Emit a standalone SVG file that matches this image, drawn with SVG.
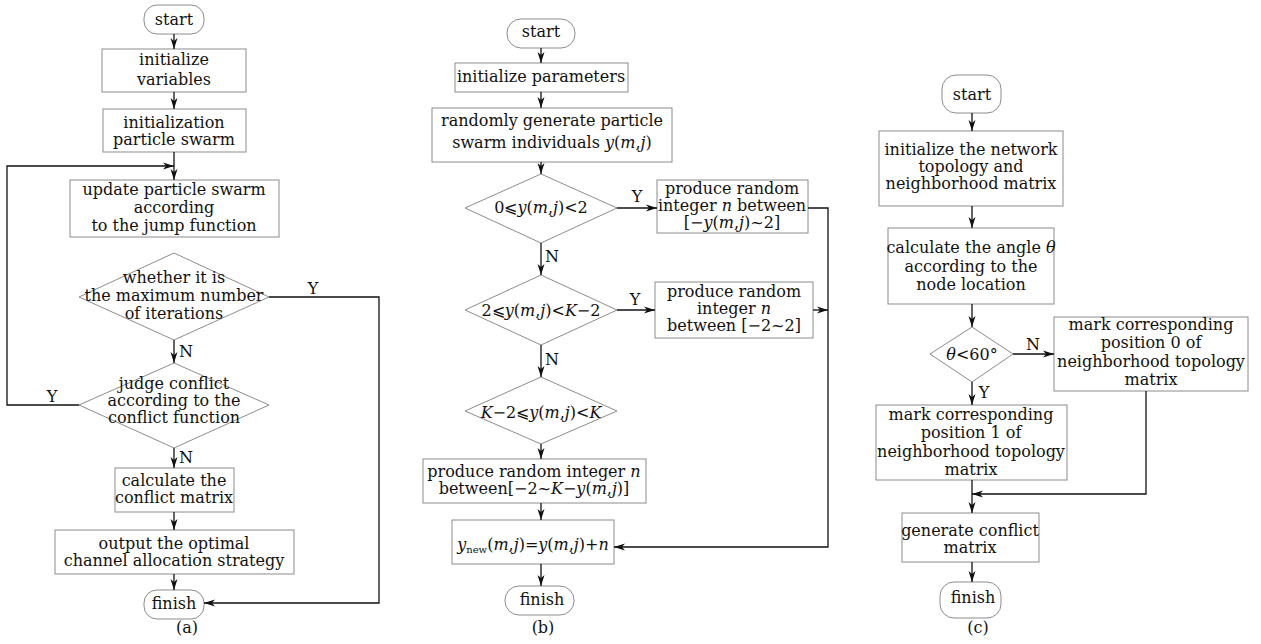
<svg xmlns="http://www.w3.org/2000/svg" width="1261" height="644" viewBox="0 0 1261 644">
<style>
text{font-family:"DejaVu Serif","Liberation Serif",serif;font-size:16px;fill:#111;text-anchor:middle}
.i{font-style:italic}
.sub{font-size:10px}
.box{fill:#fff;stroke:#8c8c8c;stroke-width:1}
.con{fill:none;stroke:#111;stroke-width:1.3}
.lbl{font-size:16px}
</style>
<defs>
<marker id="ar" markerUnits="userSpaceOnUse" markerWidth="12" markerHeight="8" refX="11" refY="4" orient="auto">
<path d="M0,0.5 L11,4 L0,7.5 L3,4 z" fill="#111"/>
</marker>
</defs>
<rect width="1261" height="644" fill="#fff"/>

<!-- Panel (a) -->
<g id="a-start"><rect class="box" x="144" y="5" width="60" height="29" rx="13"/><text x="174" y="25">start</text></g>
<g id="a-initvars"><rect class="box" x="102" y="49" width="144" height="43"/><text x="174" y="65">initialize</text><text x="174" y="85">variables</text></g>
<g id="a-initswarm"><rect class="box" x="103" y="109" width="143" height="43"/><text x="174" y="128">initialization</text><text x="174" y="145">particle swarm</text></g>
<g id="a-update"><rect class="box" x="70" y="180" width="209" height="57"/><text x="174" y="195">update particle swarm</text><text x="174" y="213">according</text><text x="174" y="231">to the jump function</text></g>
<g id="a-d1"><polygon class="box" points="174,253 269,297 174,340 79,297"/><text x="174" y="283">whether it is</text><text x="174" y="301">the maximum number</text><text x="174" y="319">of iterations</text></g>
<g id="a-d2"><polygon class="box" points="174,363 269,405 174,448 79,405"/><text x="174" y="389">judge conflict</text><text x="174" y="406">according to the</text><text x="174" y="423">conflict function</text></g>
<g id="a-calc"><rect class="box" x="115" y="468" width="119" height="44"/><text x="174" y="486">calculate the</text><text x="174" y="503">conflict matrix</text></g>
<g id="a-output"><rect class="box" x="55" y="530" width="239" height="44"/><text x="174" y="549">output the optimal</text><text x="174" y="566">channel allocation strategy</text></g>
<g id="a-finish"><rect class="box" x="144" y="590" width="60" height="29" rx="13"/><text x="174" y="609">finish</text></g>
<text x="187" y="633">(a)</text>

<!-- Panel (b) -->
<g id="b-start"><rect class="box" x="507" y="19" width="68" height="29" rx="14"/><text x="541" y="37">start</text></g>
<g id="b-init"><rect class="box" x="455" y="63" width="173" height="29"/><text x="541" y="82">initialize parameters</text></g>
<g id="b-rand"><rect class="box" x="432" y="108" width="240" height="54"/><text x="552" y="126">randomly generate particle</text><text x="552" y="148">swarm individuals <tspan class="i">y</tspan>(<tspan class="i">m</tspan>,<tspan class="i">j</tspan>)</text></g>
<g id="b-d1"><polygon class="box" points="541,174 617,208 541,243 465,208"/><text x="541" y="213">0⩽<tspan class="i">y</tspan>(<tspan class="i">m</tspan>,<tspan class="i">j</tspan>)&lt;2</text></g>
<g id="b-box1"><rect class="box" x="657" y="180" width="151" height="53"/><text x="732" y="194">produce random</text><text x="732" y="211">integer <tspan class="i">n</tspan> between</text><text x="732" y="228">[−<tspan class="i">y</tspan>(<tspan class="i">m</tspan>,<tspan class="i">j</tspan>)~2]</text></g>
<g id="b-d2"><polygon class="box" points="541,275 617,310 541,345 465,310"/><text x="541" y="316">2⩽<tspan class="i">y</tspan>(<tspan class="i">m</tspan>,<tspan class="i">j</tspan>)&lt;<tspan class="i">K</tspan>−2</text></g>
<g id="b-box2"><rect class="box" x="655" y="282" width="158" height="56"/><text x="734" y="297">produce random</text><text x="734" y="314">integer <tspan class="i">n</tspan></text><text x="734" y="331">between [−2~2]</text></g>
<g id="b-d3"><polygon class="box" points="541,377 617,411 541,444 465,411"/><text x="541" y="418"><tspan class="i">K</tspan>−2⩽<tspan class="i">y</tspan>(<tspan class="i">m</tspan>,<tspan class="i">j</tspan>)&lt;<tspan class="i">K</tspan></text></g>
<g id="b-box3"><rect class="box" x="423" y="459" width="223" height="44"/><text x="534" y="477">produce random integer <tspan class="i">n</tspan></text><text x="534" y="494">between[−2~<tspan class="i">K</tspan>−<tspan class="i">y</tspan>(<tspan class="i">m</tspan>,<tspan class="i">j</tspan>)]</text></g>
<g id="b-box4"><rect class="box" x="452" y="520" width="162" height="44"/><text x="533" y="550"><tspan class="i">y</tspan><tspan class="sub" dy="3">new</tspan><tspan dy="-3">(</tspan><tspan class="i">m</tspan>,<tspan class="i">j</tspan>)=<tspan class="i">y</tspan>(<tspan class="i">m</tspan>,<tspan class="i">j</tspan>)+<tspan class="i">n</tspan></text></g>
<g id="b-finish"><rect class="box" x="505" y="586" width="69" height="29" rx="14"/><text x="542" y="605">finish</text></g>
<text x="543" y="633">(b)</text>

<!-- Panel (c) -->
<g id="c-start"><rect class="box" x="942" y="75" width="59" height="38" rx="14"/><text x="972" y="100">start</text></g>
<g id="c-init"><rect class="box" x="879" y="131" width="184" height="75"/><text x="971" y="155">initialize the network</text><text x="971" y="172">topology and</text><text x="971" y="189">neighborhood matrix</text></g>
<g id="c-angle"><rect class="box" x="888" y="228" width="166" height="76"/><text x="971" y="253">calculate the angle <tspan class="i">θ</tspan></text><text x="971" y="272">according to the</text><text x="971" y="290">node location</text></g>
<g id="c-d"><polygon class="box" points="972,327 1013,354 972,382 930,354"/><text x="972" y="360"><tspan class="i">θ</tspan>&lt;60°</text></g>
<g id="c-mark0"><rect class="box" x="1054" y="317" width="194" height="74"/><text x="1151" y="330">mark corresponding</text><text x="1151" y="348">position 0 of</text><text x="1151" y="367">neighborhood topology</text><text x="1151" y="385">matrix</text></g>
<g id="c-mark1"><rect class="box" x="876" y="405" width="191" height="75"/><text x="971" y="420">mark corresponding</text><text x="971" y="438">position 1 of</text><text x="971" y="457">neighborhood topology</text><text x="971" y="475">matrix</text></g>
<g id="c-gen"><rect class="box" x="902" y="513" width="137" height="49"/><text x="970" y="536">generate conflict</text><text x="970" y="553">matrix</text></g>
<g id="c-finish"><rect class="box" x="940" y="582" width="61" height="36" rx="14"/><text x="973" y="603">finish</text></g>
<text x="978" y="633">(c)</text>

<!-- Connectors -->
<g id="connectors">
<path class="con" marker-end="url(#ar)" d="M174,34 V49"/>
<path class="con" marker-end="url(#ar)" d="M174,92 V109"/>
<path class="con" marker-end="url(#ar)" d="M174,152 V180"/>
<path class="con" marker-end="url(#ar)" d="M79,405 H7 V166 H174"/>
<path class="con" marker-end="url(#ar)" d="M174,340 V363"/>
<path class="con" marker-end="url(#ar)" d="M269,297 H379 V603 H204"/>
<path class="con" marker-end="url(#ar)" d="M174,448 V468"/>
<path class="con" marker-end="url(#ar)" d="M174,512 V530"/>
<path class="con" marker-end="url(#ar)" d="M174,574 V590"/>
<text class="lbl" x="313" y="294">Y</text>
<text class="lbl" x="186" y="357">N</text>
<text class="lbl" x="52" y="402">Y</text>
<text class="lbl" x="186" y="463">N</text>

<path class="con" marker-end="url(#ar)" d="M541,48 V63"/>
<path class="con" marker-end="url(#ar)" d="M541,92 V108"/>
<path class="con" marker-end="url(#ar)" d="M541,162 V174"/>
<path class="con" marker-end="url(#ar)" d="M617,208 H657"/>
<path class="con" marker-end="url(#ar)" d="M541,243 V275"/>
<path class="con" marker-end="url(#ar)" d="M617,310 H655"/>
<path class="con" marker-end="url(#ar)" d="M541,345 V377"/>
<path class="con" marker-end="url(#ar)" d="M541,444 V459"/>
<path class="con" marker-end="url(#ar)" d="M541,503 V520"/>
<path class="con" marker-end="url(#ar)" d="M541,564 V586"/>
<path class="con" marker-end="url(#ar)" d="M808,208 H828 V547 H614"/>
<path class="con" marker-end="url(#ar)" d="M813,310 H828"/>
<text class="lbl" x="637" y="202">Y</text>
<text class="lbl" x="552" y="262">N</text>
<text class="lbl" x="635" y="305">Y</text>
<text class="lbl" x="552" y="365">N</text>

<path class="con" marker-end="url(#ar)" d="M972,113 V131"/>
<path class="con" marker-end="url(#ar)" d="M972,206 V228"/>
<path class="con" marker-end="url(#ar)" d="M972,304 V327"/>
<path class="con" marker-end="url(#ar)" d="M1013,354 H1054"/>
<path class="con" marker-end="url(#ar)" d="M972,382 V405"/>
<path class="con" marker-end="url(#ar)" d="M1146,391 V494 H972"/>
<path class="con" marker-end="url(#ar)" d="M972,480 V513"/>
<path class="con" marker-end="url(#ar)" d="M972,562 V582"/>
<text class="lbl" x="1033" y="350">N</text>
<text class="lbl" x="984" y="398">Y</text>
</g>
</svg>
